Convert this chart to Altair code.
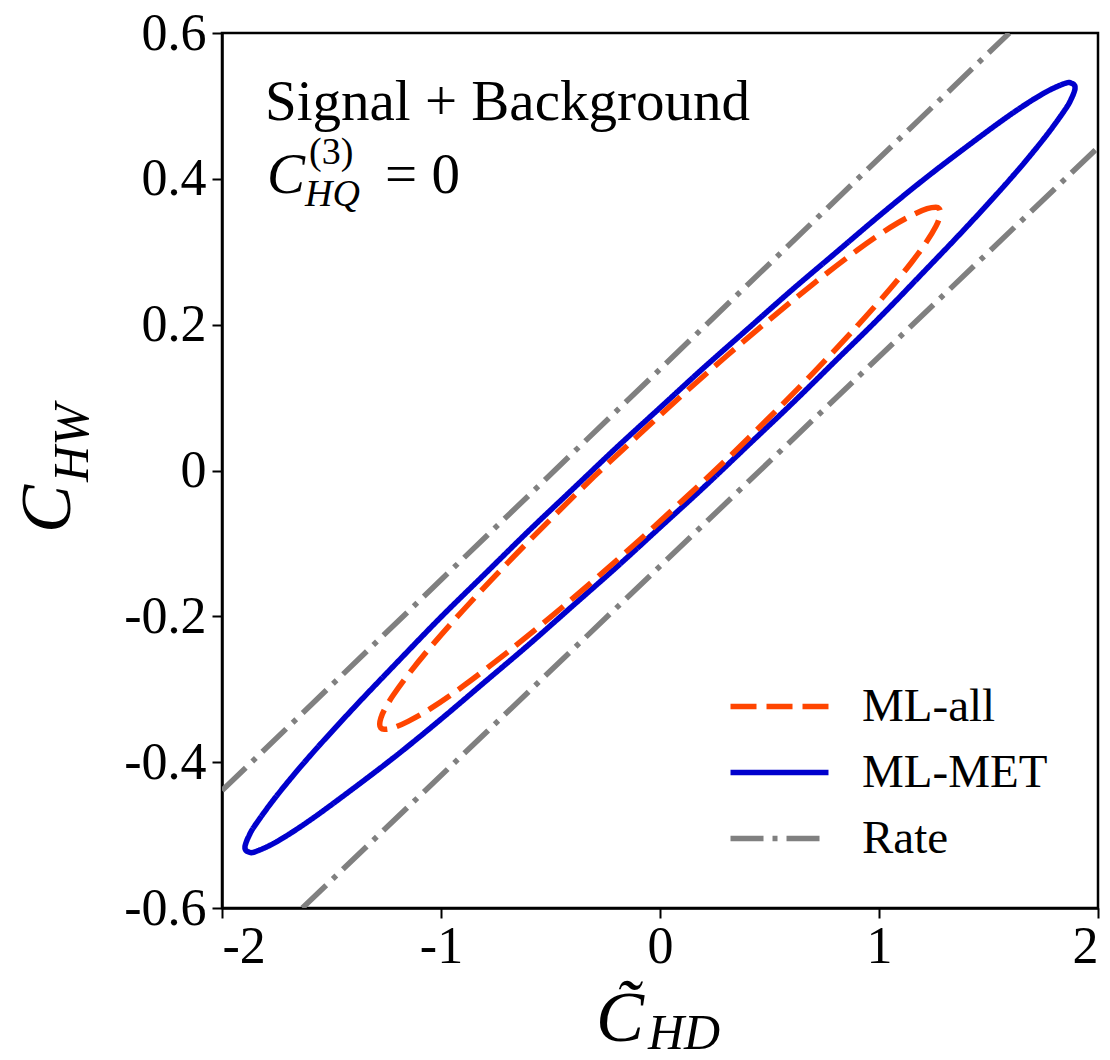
import altair as alt
import pandas as pd

FONT = "Liberation Serif"

# ML-all confidence contour: closed loop, upper edge from the right tip, then lower edge back
ml_all_x = [1.28, 1.275, 1.26, 1.22, 1.15, 1.05, 0.9, 0.7, 0.5, 0.3, 0.1,
            -0.1, -0.3, -0.5, -0.7, -0.9, -1.05, -1.15, -1.22, -1.26, -1.275, -1.28,
            -1.275, -1.26, -1.22, -1.15, -1.05, -0.9, -0.7, -0.5, -0.3, -0.1,
            0.1, 0.3, 0.5, 0.7, 0.9, 1.05, 1.15, 1.22, 1.26, 1.275]
ml_all_y = [0.354, 0.359, 0.361, 0.359, 0.350, 0.333, 0.302, 0.256, 0.207, 0.156, 0.103,
            0.048, -0.008, -0.067, -0.128, -0.192, -0.243, -0.280, -0.309, -0.329, -0.340, -0.348,
            -0.353, -0.355, -0.353, -0.344, -0.327, -0.296, -0.250, -0.201, -0.150, -0.097,
            -0.042, 0.014, 0.073, 0.134, 0.198, 0.249, 0.286, 0.315, 0.335, 0.346]

# ML-MET confidence contour: closed loop, upper edge from the right tip, then lower edge back
ml_met_x = [1.895, 1.893, 1.88, 1.85, 1.75, 1.6, 1.4, 1.2, 1.0, 0.8, 0.6, 0.4, 0.2, 0.0,
            -0.2, -0.4, -0.6, -0.8, -1.0, -1.2, -1.4, -1.6, -1.75, -1.85, -1.88, -1.893, -1.895,
            -1.893, -1.88, -1.85, -1.75, -1.6, -1.4, -1.2, -1.0, -0.8, -0.6, -0.4, -0.2, 0.0,
            0.2, 0.4, 0.6, 0.8, 1.0, 1.2, 1.4, 1.6, 1.75, 1.85, 1.88, 1.893]
ml_met_y = [0.525, 0.528, 0.531, 0.531, 0.517, 0.488, 0.444, 0.398, 0.349, 0.298, 0.247, 0.194, 0.141, 0.086,
            0.031, -0.026, -0.083, -0.142, -0.201, -0.263, -0.326, -0.392, -0.446, -0.487, -0.503, -0.513, -0.517,
            -0.520, -0.523, -0.523, -0.509, -0.480, -0.436, -0.390, -0.341, -0.290, -0.239, -0.186, -0.133, -0.078,
            -0.023, 0.034, 0.091, 0.150, 0.209, 0.271, 0.334, 0.400, 0.454, 0.495, 0.511, 0.521]

# Rate-only bounds: two straight lines
rate_upper_x = [-2.0, 1.595]
rate_upper_y = [-0.439, 0.6]
rate_lower_x = [-1.633, 2.0]
rate_lower_y = [-0.6, 0.443]

series_names = ["ML-all", "ML-MET", "Rate"]
series_colors = ["#ff4500", "#0000cd", "#808080"]
series_dashes = [[26, 10], [1, 0], [33, 9, 5, 9]]

x_ticks = [-2, -1, 0, 1, 2]
x_tick_labels = ["-2", "-1", "0", "1", "2"]
y_ticks = [-0.6, -0.4, -0.2, 0, 0.2, 0.4, 0.6]
y_tick_labels = ["-0.6", "-0.4", "-0.2", "0", "0.2", "0.4", "0.6"]


def rows(name, segment, xs, ys):
    return [{"series": name, "segment": segment, "idx": i, "x": a, "y": b}
            for i, (a, b) in enumerate(zip(xs, ys))]


def label_expr(values, labels):
    expr = "''"
    for v, t in reversed(list(zip(values, labels))):
        expr = f"abs(datum.value - ({v})) < 1e-9 ? '{t}' : ({expr})"
    return expr


ml_all = pd.DataFrame(rows("ML-all", "ml_all", ml_all_x, ml_all_y))
ml_met = pd.DataFrame(rows("ML-MET", "ml_met", ml_met_x, ml_met_y))
rates = pd.DataFrame(rows("Rate", "rate_upper", rate_upper_x, rate_upper_y)
                     + rows("Rate", "rate_lower", rate_lower_x, rate_lower_y))

# long horizontal stroke as the legend swatch (path is scaled by sqrt(size)/2)
legend = alt.Legend(
    title=None, orient="none", legendX=530, legendY=646, padding=0,
    symbolType="M-2,0H2", symbolSize=2400, symbolStrokeWidth=5.5,
    labelFont=FONT, labelFontSize=47, labelColor="black", labelOffset=55,
    rowPadding=15, labelLimit=400,
)

x_enc = alt.X("x:Q", scale=alt.Scale(domain=[-2, 2], nice=False, zero=False),
              axis=alt.Axis(values=x_ticks, labelExpr=label_expr(x_ticks, x_tick_labels),
                            title=None, labelPadding=3))
y_enc = alt.Y("y:Q", scale=alt.Scale(domain=[-0.6, 0.6], nice=False, zero=False),
              axis=alt.Axis(values=y_ticks, labelExpr=label_expr(y_ticks, y_tick_labels),
                            title=None, labelPadding=6))
color_enc = alt.Color("series:N", scale=alt.Scale(domain=series_names, range=series_colors),
                      legend=legend)
dash_enc = alt.StrokeDash("series:N", scale=alt.Scale(domain=series_names, range=series_dashes),
                          legend=legend)


def line_layer(df, closed):
    mark = alt.Chart(df).mark_line(
        strokeWidth=5.5, clip=True, strokeCap="butt",
        interpolate="cardinal-closed" if closed else "linear",
    )
    return mark.encode(x=x_enc, y=y_enc, color=color_enc, strokeDash=dash_enc,
                       detail="segment:N", order="idx:Q")


def text(t, x, y, size, italic=False, angle=0, align="left"):
    return alt.Chart(pd.DataFrame({"t": [t]})).mark_text(
        text=t, font=FONT, fontSize=size, fontStyle="italic" if italic else "normal",
        angle=angle, align=align, baseline="alphabetic", color="black",
    ).encode(x=alt.value(x), y=alt.value(y))


annotations = [
    text("Signal + Background", 43, 87, 57),
    text("C", 45, 160, 57, italic=True),
    text("(3)", 87, 131, 38),
    text("HQ", 83, 173, 38, italic=True),
    text("= 0", 163, 160, 57),
    # y-axis title C_HW
    text("C", -152, 476, 72, italic=True, angle=270, align="center"),
    text("HW", -134, 410, 50, italic=True, angle=270, align="center"),
    # x-axis title C~_HD
    text("C\u0303", 398, 1008, 72, italic=True, align="center"),
    text("HD", 462, 1016, 50, italic=True, align="center"),
]

chart = alt.layer(
    line_layer(rates, False),
    line_layer(ml_met, True),
    line_layer(ml_all, True),
    *annotations,
).properties(
    width=876, height=875,
    autosize=alt.AutoSizeParams(type="none"),
    padding={"left": 222, "top": 33, "right": 12, "bottom": 152},
).configure_view(
    stroke="black", strokeWidth=2.5,
).configure_axis(
    grid=False, domainColor="black", domainWidth=2.5,
    tickColor="black", tickWidth=2, tickSize=10,
    labelFont=FONT, labelFontSize=52, labelColor="black",
)

chart.save("out.html", embed_options={"renderer": "svg", "actions": False})
